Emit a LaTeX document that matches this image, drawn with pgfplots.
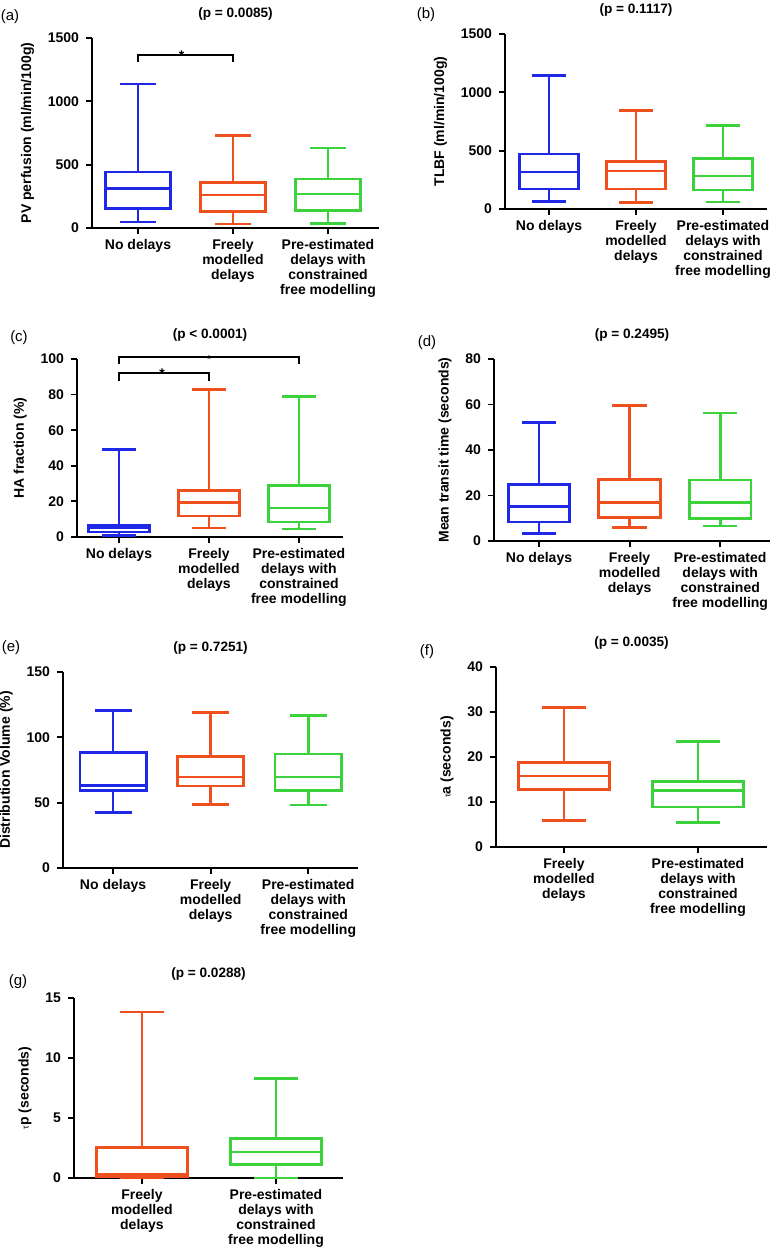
\documentclass[border=0pt]{standalone}
\usepackage{fontspec}
\setmainfont{Liberation Sans}
\usepackage{pgfplots}
\pgfplotsset{compat=1.18}
\definecolor{cblue}{RGB}{30,40,230}
\definecolor{corange}{RGB}{238,80,30}
\definecolor{cgreen}{RGB}{60,210,60}
\newcommand{\lab}{\bfseries\fontsize{7}{7.6}\selectfont}
\pgfplotsset{
  gp/.style={
    scale only axis, anchor=south west,
    axis x line=bottom, axis y line=left,
    axis line style={-, line width=0.9pt},
    tick align=outside, major tick length=3pt,
    tick style={line width=0.9pt, black},
    ymin=0, clip=false, unbounded coords=jump,
    xticklabel style={align=center, font=\lab, yshift=1pt},
    yticklabel style={font=\lab},
    ylabel style={font=\lab},
    title style={at={(0.5,1)}, anchor=center, yshift=6pt, font=\bfseries\fontsize{6.8}{8}\selectfont},
    /pgf/number format/assume math mode=true,
    /pgf/number format/1000 sep={},
  },
  three/.style={xtick={0,1,2},
    xticklabels={No delays, {Freely\\modelled\\delays}, {Pre-estimated\\delays with\\constrained\\free modelling}}},
  two/.style={xtick={0,1},
    xticklabels={{Freely\\modelled\\delays}, {Pre-estimated\\delays with\\constrained\\free modelling}}},
  bx/.style={line width=1.35pt, solid, mark=none, line join=miter},
  sig/.style={black, line width=1.1pt, mark=none},
}
\begin{document}
\begin{tikzpicture}
\useasboundingbox (0,0) rectangle (386pt,623.5pt);
\begin{scope}[font=\fontsize{7.5}{9}\selectfont]
\node at (5pt,615pt) {(a)};
\node at (213pt,616pt) {(b)};
\node at (9.5pt,454.5pt) {(c)};
\node at (213.5pt,452pt) {(d)};
\node at (5.5pt,299.5pt) {(e)};
\node at (213.5pt,297.5pt) {(f)};
\node at (9pt,132.5pt) {(g)};
\end{scope}

% (a)
\begin{axis}[gp, three, at={(46pt,509.5pt)}, width=143.5pt, height=95pt,
  xmin=-0.484, xmax=2.537, ymax=1500, ytick={0,500,1000,1500},
  ylabel={PV perfusion (ml/min/100g)}, title={(p = 0.0085)}]
\addplot[bx, cblue] coordinates {(0,153)(0.34,153)(0.34,442)(-0.34,442)(-0.34,153)(0,153)(0,nan)(-0.34,311)(0.34,311)(0,nan)(0,442)(0,1137)(0,nan)(-0.19,1137)(0.19,1137)(0,nan)(0,153)(0,47)(0,nan)(-0.19,47)(0.19,47)};
\addplot[bx, corange] coordinates {(1,129)(1.34,129)(1.34,361)(0.66,361)(0.66,129)(1,129)(1,nan)(0.66,261)(1.34,261)(1,nan)(1,361)(1,732)(1,nan)(0.81,732)(1.19,732)(1,nan)(1,129)(1,32)(1,nan)(0.81,32)(1.19,32)};
\addplot[bx, cgreen] coordinates {(2,137)(2.34,137)(2.34,387)(1.66,387)(1.66,137)(2,137)(2,nan)(1.66,268)(2.34,268)(2,nan)(2,387)(2,632)(2,nan)(1.81,632)(2.19,632)(2,nan)(2,137)(2,34)(2,nan)(1.81,34)(2.19,34)};
\addplot[sig] coordinates {(0,1308)(0,1368)(1,1368)(1,1308)};
\node[font=\bfseries\fontsize{7}{8}\selectfont, anchor=south, inner sep=0pt, yshift=-3pt] at (axis cs:0.46,1368) {*};
\end{axis}

% (b)
\begin{axis}[gp, three, at={(252.5pt,519pt)}, width=131pt, height=87.5pt,
  xmin=-0.506, xmax=2.506, ymax=1500, ytick={0,500,1000,1500},
  ylabel={TLBF (ml/min/100g)}, title={(p = 0.1117)}]
\addplot[bx, cblue] coordinates {(0,171)(0.34,171)(0.34,471)(-0.34,471)(-0.34,171)(0,171)(0,nan)(-0.34,317)(0.34,317)(0,nan)(0,471)(0,1143)(0,nan)(-0.19,1143)(0.19,1143)(0,nan)(0,171)(0,63)(0,nan)(-0.19,63)(0.19,63)};
\addplot[bx, corange] coordinates {(1,171)(1.34,171)(1.34,409)(0.66,409)(0.66,171)(1,171)(1,nan)(0.66,326)(1.34,326)(1,nan)(1,409)(1,843)(1,nan)(0.81,843)(1.19,843)(1,nan)(1,171)(1,57)(1,nan)(0.81,57)(1.19,57)};
\addplot[bx, cgreen] coordinates {(2,163)(2.34,163)(2.34,434)(1.66,434)(1.66,163)(2,163)(2,nan)(1.66,283)(2.34,283)(2,nan)(2,434)(2,717)(2,nan)(1.81,717)(2.19,717)(2,nan)(2,163)(2,60)(2,nan)(1.81,60)(2.19,60)};
\end{axis}

% (c)
\begin{axis}[gp, three, at={(38.5pt,355pt)}, width=133pt, height=89pt,
  xmin=-0.467, xmax=2.49, ymax=100, ytick={0,20,...,100},
  ylabel={HA fraction (\%)}, title={(p < 0.0001)}]
\addplot[bx, cblue] coordinates {(0,2.8)(0.34,2.8)(0.34,6.7)(-0.34,6.7)(-0.34,2.8)(0,2.8)(0,nan)(-0.34,5.2)(0.34,5.2)(0,nan)(0,6.7)(0,49.3)(0,nan)(-0.19,49.3)(0.19,49.3)(0,nan)(0,2.8)(0,0.9)(0,nan)(-0.19,0.9)(0.19,0.9)};
\addplot[bx, corange] coordinates {(1,11.8)(1.34,11.8)(1.34,26)(0.66,26)(0.66,11.8)(1,11.8)(1,nan)(0.66,19.3)(1.34,19.3)(1,nan)(1,26)(1,83)(1,nan)(0.81,83)(1.19,83)(1,nan)(1,11.8)(1,5)(1,nan)(0.81,5)(1.19,5)};
\addplot[bx, cgreen] coordinates {(2,8.4)(2.34,8.4)(2.34,29)(1.66,29)(1.66,8.4)(2,8.4)(2,nan)(1.66,16.3)(2.34,16.3)(2,nan)(2,29)(2,79)(2,nan)(1.81,79)(2.19,79)(2,nan)(2,8.4)(2,4.5)(2,nan)(1.81,4.5)(2.19,4.5)};
\addplot[sig] coordinates {(0,87.5)(0,92.3)(1,92.3)(1,87.5)};
\addplot[sig] coordinates {(0,97)(0,101)(2,101)(2,97)};
\node[font=\bfseries\fontsize{7}{8}\selectfont, anchor=south, inner sep=0pt, yshift=-3pt] at (axis cs:0.48,92.3) {*};
\node[font=\bfseries\fontsize{5}{6}\selectfont, anchor=south, inner sep=0pt, yshift=-3pt] at (axis cs:1.0,101) {*};
\end{axis}

% (d)
\begin{axis}[gp, three, at={(247pt,353pt)}, width=138pt, height=91pt,
  xmin=-0.497, xmax=2.55, ymax=80, ytick={0,20,...,80},
  ylabel={Mean transit time (seconds)}, title={(p = 0.2495)}]
\addplot[bx, cblue] coordinates {(0,8.4)(0.34,8.4)(0.34,24.9)(-0.34,24.9)(-0.34,8.4)(0,8.4)(0,nan)(-0.34,15.3)(0.34,15.3)(0,nan)(0,24.9)(0,52.2)(0,nan)(-0.19,52.2)(0.19,52.2)(0,nan)(0,8.4)(0,3.2)(0,nan)(-0.19,3.2)(0.19,3.2)};
\addplot[bx, corange] coordinates {(1,10.4)(1.34,10.4)(1.34,27.1)(0.66,27.1)(0.66,10.4)(1,10.4)(1,nan)(0.66,16.9)(1.34,16.9)(1,nan)(1,27.1)(1,59.4)(1,nan)(0.81,59.4)(1.19,59.4)(1,nan)(1,10.4)(1,5.9)(1,nan)(0.81,5.9)(1.19,5.9)};
\addplot[bx, cgreen] coordinates {(2,9.9)(2.34,9.9)(2.34,26.8)(1.66,26.8)(1.66,9.9)(2,9.9)(2,nan)(1.66,16.8)(2.34,16.8)(2,nan)(2,26.8)(2,56.2)(2,nan)(1.81,56.2)(2.19,56.2)(2,nan)(2,9.9)(2,6.6)(2,nan)(1.81,6.6)(2.19,6.6)};
\end{axis}

% (e)
\begin{axis}[gp, three, at={(31.5pt,189.5pt)}, width=147.5pt, height=98pt,
  xmin=-0.513, xmax=2.51, ymax=150, ytick={0,50,100,150},
  ylabel={Distribution Volume (\%)}, title={(p = 0.7251)}]
\addplot[bx, cblue] coordinates {(0,59.5)(0.34,59.5)(0.34,88.3)(-0.34,88.3)(-0.34,59.5)(0,59.5)(0,nan)(-0.34,63)(0.34,63)(0,nan)(0,88.3)(0,120.4)(0,nan)(-0.19,120.4)(0.19,120.4)(0,nan)(0,59.5)(0,42.6)(0,nan)(-0.19,42.6)(0.19,42.6)};
\addplot[bx, corange] coordinates {(1,62.8)(1.34,62.8)(1.34,85.5)(0.66,85.5)(0.66,62.8)(1,62.8)(1,nan)(0.66,69.7)(1.34,69.7)(1,nan)(1,85.5)(1,119)(1,nan)(0.81,119)(1.19,119)(1,nan)(1,62.8)(1,48.5)(1,nan)(0.81,48.5)(1.19,48.5)};
\addplot[bx, cgreen] coordinates {(2,59.4)(2.34,59.4)(2.34,87.2)(1.66,87.2)(1.66,59.4)(2,59.4)(2,nan)(1.66,69.7)(2.34,69.7)(2,nan)(2,87.2)(2,116.8)(2,nan)(1.81,116.8)(2.19,116.8)(2,nan)(2,59.4)(2,48.2)(2,nan)(1.81,48.2)(2.19,48.2)};
\end{axis}

% (f)
\begin{axis}[gp, two, at={(248pt,200pt)}, width=135.5pt, height=90pt,
  xmin=-0.507, xmax=1.515, ymax=40, ytick={0,10,...,40},
  ylabel={{\mdseries\fontsize{4.5}{5}\selectfont τ}a (seconds)}, title={(p = 0.0035)}]
\addplot[bx, corange] coordinates {(0,12.8)(0.34,12.8)(0.34,18.7)(-0.34,18.7)(-0.34,12.8)(0,12.8)(0,nan)(-0.34,15.8)(0.34,15.8)(0,nan)(0,18.7)(0,31)(0,nan)(-0.165,31)(0.165,31)(0,nan)(0,12.8)(0,5.9)(0,nan)(-0.165,5.9)(0.165,5.9)};
\addplot[bx, cgreen] coordinates {(1,8.9)(1.34,8.9)(1.34,14.6)(0.66,14.6)(0.66,8.9)(1,8.9)(1,nan)(0.66,12.5)(1.34,12.5)(1,nan)(1,14.6)(1,23.5)(1,nan)(0.835,23.5)(1.165,23.5)(1,nan)(1,8.9)(1,5.5)(1,nan)(0.835,5.5)(1.165,5.5)};
\end{axis}

% (g)
\begin{axis}[gp, two, at={(37pt,34.5pt)}, width=134.5pt, height=90pt,
  xmin=-0.507, xmax=1.5, ymax=15, ytick={0,5,10,15},
  ylabel={{\mdseries\fontsize{4.5}{5}\selectfont τ}p (seconds)}, title={(p = 0.0288)}]
\addplot[bx, corange] coordinates {(0,0.08)(0.34,0.08)(0.34,2.56)(-0.34,2.56)(-0.34,0.08)(0,0.08)(0,nan)(-0.34,0.31)(0.34,0.31)(0,nan)(0,2.56)(0,13.83)(0,nan)(-0.165,13.83)(0.165,13.83)(0,nan)(0,0.08)(0,0)(0,nan)(-0.165,0)(0.165,0)};
\addplot[bx, cgreen] coordinates {(1,1.14)(1.34,1.14)(1.34,3.29)(0.66,3.29)(0.66,1.14)(1,1.14)(1,nan)(0.66,2.17)(1.34,2.17)(1,nan)(1,3.29)(1,8.28)(1,nan)(0.835,8.28)(1.165,8.28)(1,nan)(1,1.14)(1,0)(1,nan)(0.835,0)(1.165,0)};
\end{axis}
\end{tikzpicture}
\end{document}
